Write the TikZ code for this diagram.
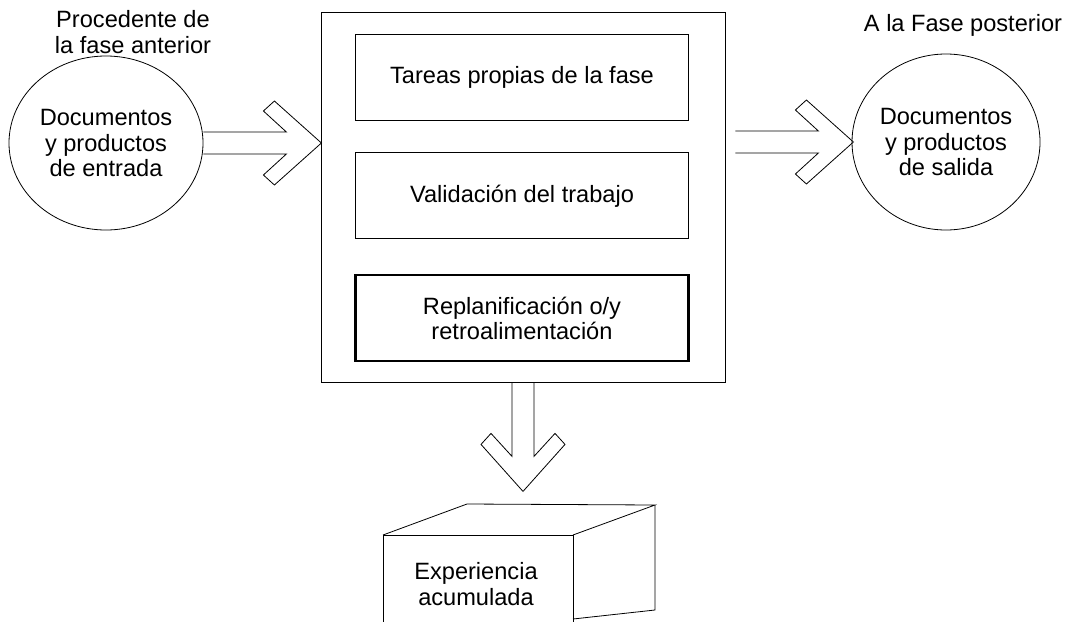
\documentclass[tikz,border=0pt]{standalone}
\usepackage{fontspec}
\setmainfont{Liberation Sans}
\usetikzlibrary{positioning}
\usetikzlibrary{shapes.geometric}
\tikzset{%
  stage/.style = {rectangle,draw,thin,minimum width=166.5pt,
        minimum height=43pt,align=center},
  doc/.style = {ellipse,draw,thin,align=center,inner sep=0pt},
  pics/chev/.style = {code = {
    \draw[thin,line join=miter] (0,-11) -- (#1-35,-11) -- (#1-58,-32)
      -- (#1-47,-42) -- (#1,0) -- (#1-47,42) -- (#1-58,32) -- (#1-35,11) -- (0,11);
  }}
}

\begin{document}
\begin{tikzpicture}[x=0.5pt,y=-0.5pt,
  font=\fontsize{11.8pt}{12.6pt}\selectfont,
  node distance = 16pt]
  \useasboundingbox (0,0) rectangle (1075,621);
  % phase box and its tasks
  \node (phase) [rectangle,draw,thin,minimum width=202pt,minimum height=185pt] at (523,197) {};
  \node (tasks) [stage] at (522,77) {Tareas propias de la fase};
  \node (check) [stage,below=of tasks] {Validaci\'on del trabajo};
  \node (replan) [stage,line width=1.1pt,below=17.5pt of check] {Replanificaci\'on o/y\\retroalimentaci\'on};
  % input and output
  \node (in) [doc,minimum width=97pt,minimum height=87pt] at (106,143) {Documentos\\y productos\\de entrada};
  \node (out) [doc,minimum width=94pt,minimum height=88pt] at (946,142) {Documentos\\y productos\\de salida};
  \node (prevlbl) [align=center] at (133,32) {Procedente de\\la fase anterior};
  \node (nextlbl) at (963,25) {A la Fase posterior};
  \pic at (in.east) {chev=118};
  \pic at ([xshift=5pt]phase.east |- out.west) {chev=118};
  \pic[rotate=-90] at (phase.south) {chev=109};
  % experience store
  \draw[thin] (383,623) -- (383,535) -- (573,535) -- (573,623);
  \draw[thin] (383,535) -- (467,504) -- (655,505) -- (573,535);
  \draw[thin] (655,505) -- (655,610) -- (573,619);
  \node (exp) [align=center] at (476,584) {Experiencia\\acumulada};
\end{tikzpicture}
\end{document}
